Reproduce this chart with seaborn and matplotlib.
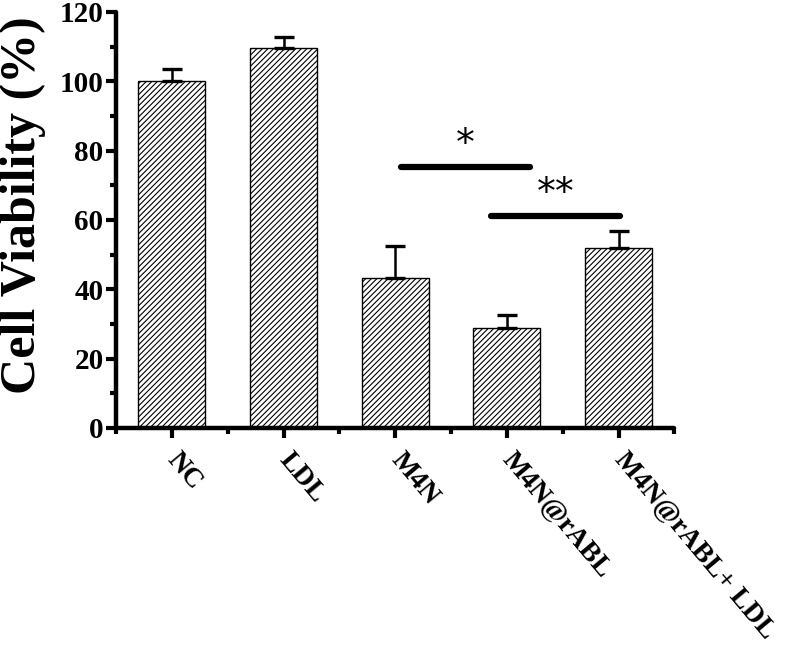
import numpy as np
import pandas as pd
import matplotlib
matplotlib.use("Agg")
import matplotlib.pyplot as plt
import seaborn as sns
from matplotlib.ticker import MultipleLocator

# data
groups = ['NC', 'LDL', 'M4N', 'M4N@rABL', 'M4N@rABL+ LDL']
viability = [100.0, 109.6, 43.3, 28.9, 52.0]
err_up = [3.5, 3.3, 9.2, 3.8, 4.9]
# significance brackets: (x start, x end, y, label)
sig_x0 = [2.05, 2.86]
sig_x1 = [3.21, 4.01]
sig_y = [75.3, 61.2]
sig_txt = ['*', '**']

df = pd.DataFrame({'group': groups, 'viability': viability})

sns.set_style('ticks')
plt.rcParams['font.family'] = ['Liberation Serif', 'DejaVu Serif']
plt.rcParams['font.weight'] = 'bold'
plt.rcParams['hatch.linewidth'] = 0.8
plt.rcParams['text.color'] = 'black'
plt.rcParams['axes.edgecolor'] = 'black'
plt.rcParams['axes.labelcolor'] = 'black'
plt.rcParams['xtick.color'] = 'black'
plt.rcParams['ytick.color'] = 'black'

fig = plt.figure(figsize=(7.92, 6.47), dpi=100)
ax = fig.add_axes([0.1465, 0.3385, 0.705, 0.643])

sns.barplot(data=df, x='group', y='viability', ax=ax, color='white',
            edgecolor='black', linewidth=1.0, width=0.6, errorbar=None,
            hatch='//////')

ax.errorbar(np.arange(len(groups)), viability,
            yerr=[np.zeros(len(groups)), err_up], fmt='none',
            ecolor='black', elinewidth=1.8, capsize=7, capthick=2.4)

for x0, x1, y, t in zip(sig_x0, sig_x1, sig_y, sig_txt):
    ax.plot([x0, x1], [y, y], color='black', lw=4.5, solid_capstyle='round')
    ax.text((x0 + x1) / 2, y + 1.2, t, ha='center', va='bottom',
            fontsize=27, fontweight='normal', family='DejaVu Sans',
            color='black')

ax.set_xlim(-0.5, 4.5)
ax.set_ylim(0, 120)
ax.yaxis.set_major_locator(MultipleLocator(20))
ax.yaxis.set_minor_locator(MultipleLocator(10))
ax.xaxis.set_minor_locator(MultipleLocator(0.5))
ax.set_yticks([0, 20, 40, 60, 80, 100, 120])

sns.despine(ax=ax)
for s in ['left', 'bottom']:
    ax.spines[s].set_linewidth(3.2)
    ax.spines[s].set_capstyle('round')

ax.tick_params(axis='both', which='major', direction='out', length=7,
               width=3, labelsize=21)
ax.tick_params(axis='both', which='minor', direction='out', length=4,
               width=3)
ax.tick_params(axis='y', pad=2)

ax.set_xticks(range(len(groups)))
ax.set_xticklabels(groups, rotation=-50, ha='left', va='center',
                   rotation_mode='anchor', fontweight='bold', fontsize=20)
ax.tick_params(axis='x', pad=13)
for lab in ax.get_yticklabels():
    lab.set_fontweight('bold')

ax.set_xlabel('')
ax.set_ylabel('Cell Viability (%)', fontsize=36, fontweight='bold')
ax.yaxis.set_label_coords(-0.125, 0.535)

fig.savefig('out.png', dpi=100)
